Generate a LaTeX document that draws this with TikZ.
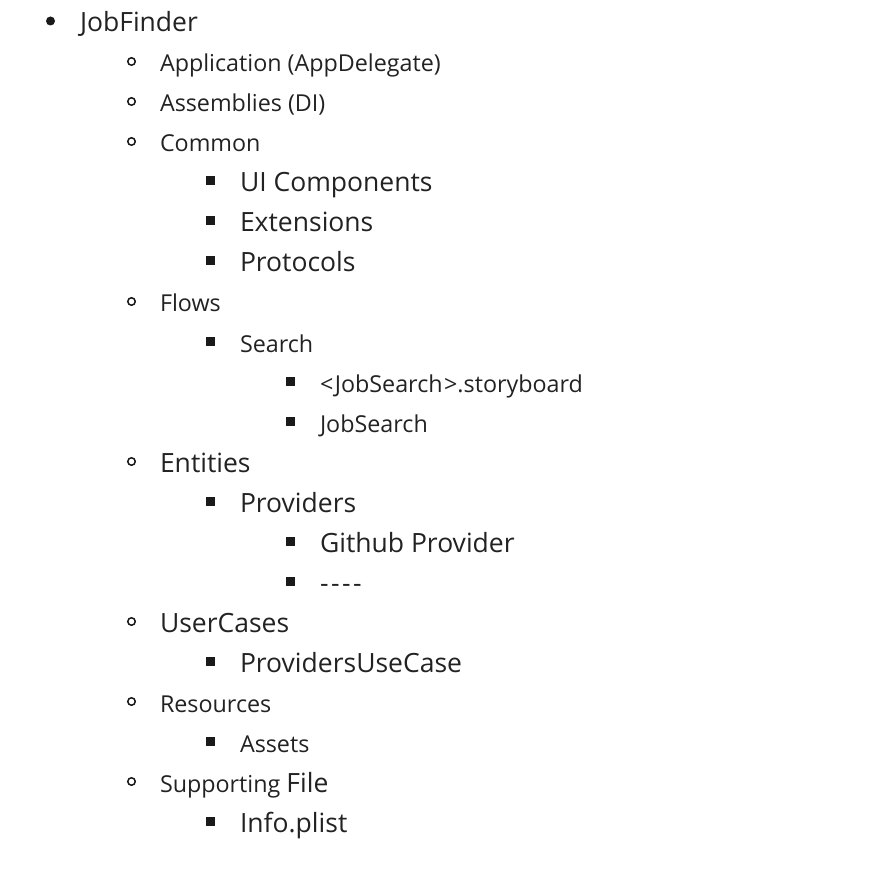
\documentclass[tikz,border=0pt]{standalone}
\usepackage{fontspec}
\setmainfont{Open Sans}
\definecolor{txt}{HTML}{222222}
\definecolor{blt}{HTML}{1A1A1A}
\begin{document}
\begin{tikzpicture}[x=1pt,y=-1pt,
  sm/.style={anchor=base west,inner sep=0pt,outer sep=0pt,text=txt,font=\fontsize{23.3}{28}\selectfont},
  lg/.style={sm,font=\fontsize{26.5}{32}\selectfont},
  bdot/.style={circle,fill=blt,draw=none,minimum size=9pt,inner sep=0pt},
  bring/.style={circle,draw=blt,line width=1.5pt,minimum size=7.5pt,inner sep=0pt},
  bsq/.style={rectangle,fill=blt,draw=none,minimum size=9pt,inner sep=0pt}]
\useasboundingbox (0,0) rectangle (880,874);
% level 1
\node[bdot] (b1) at (50.5,21) {};
\node[lg] (t1) at (80,32) {JobFinder};
% level 2
\node[bring] (b2) at (131.5,61.5) {};
\node[sm] (t2) at (160,72) {Application (AppDelegate)};
\node[bring] (b3) at (131.5,101.5) {};
\node[sm] (t3) at (160,112) {Assemblies (DI)};
\node[bring] (b4) at (131.5,141.5) {};
\node[sm] (t4) at (160,152) {Common};
\node[bsq] (b5) at (210.5,181) {};
\node[lg] (t5) at (240,192) {UI Components};
\node[bsq] (b6) at (210.5,221) {};
\node[lg] (t6) at (240,232) {Extensions};
\node[bsq] (b7) at (210.5,261) {};
\node[lg] (t7) at (240,272) {Protocols};
\node[bring] (b8) at (131.5,301.5) {};
\node[sm] (t8) at (160,312) {Flows};
\node[bsq] (b9) at (210.5,341) {};
\node[sm] (t9) at (240,352) {Search};
\node[bsq] (b10) at (290.5,381) {};
\node[sm] (t10) at (320,392) {<\kern1.5ptJobSearch\kern1.5pt>.storyboard};
\node[bsq] (b11) at (290.5,421) {};
\node[sm] (t11) at (320,432) {JobSearch};
\node[bring] (b12) at (131.5,461.5) {};
\node[lg] (t12) at (160,472) {Entities};
\node[bsq] (b13) at (210.5,501) {};
\node[lg] (t13) at (240,512) {Providers};
\node[bsq] (b14) at (290.5,541) {};
\node[lg] (t14) at (320,552) {Github Provider};
\node[bsq] (b15) at (290.5,581) {};
\node[lg] (t15) at (320,592) {-\kern2.5pt-\kern2.5pt-\kern2.5pt-};
\node[bring] (b16) at (131.5,621.5) {};
\node[lg] (t16) at (160,632) {UserCases};
\node[bsq] (b17) at (210.5,661) {};
\node[lg] (t17) at (240,672) {ProvidersUseCase};
\node[bring] (b18) at (131.5,701.5) {};
\node[sm] (t18) at (160,712) {Resources};
\node[bsq] (b19) at (210.5,741) {};
\node[sm] (t19) at (240,752) {Assets};
\node[bring] (b20) at (131.5,781.5) {};
\node[sm] (t20) at (160,792) {Supporting};
\node[lg] (t20b) at ([xshift=6pt]t20.base east) {File};
\node[bsq] (b21) at (210.5,821) {};
\node[lg] (t21) at (240,832) {Info.plist};
\end{tikzpicture}
\end{document}
